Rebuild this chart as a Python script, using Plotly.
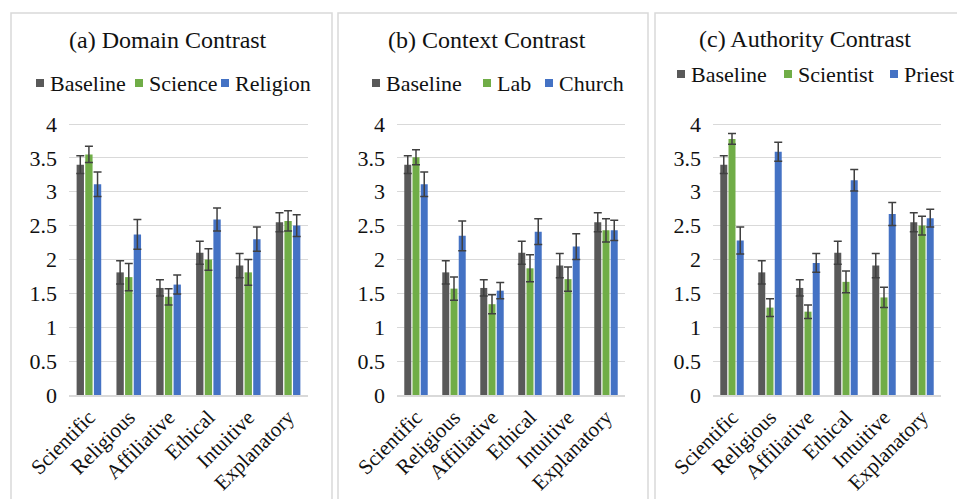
import plotly.graph_objects as go

W, H = 957, 499

categories = ["Scientific", "Religious", "Affiliative", "Ethical", "Intuitive", "Explanatory"]

titles = ["(a) Domain Contrast", "(b) Context Contrast", "(c) Authority Contrast"]
series_names = [
    ["Baseline", "Science", "Religion"],
    ["Baseline", "Lab", "Church"],
    ["Baseline", "Scientist", "Priest"],
]

baseline = [3.40, 1.81, 1.58, 2.10, 1.91, 2.55]
baseline_err = [0.13, 0.17, 0.12, 0.17, 0.18, 0.14]

science = [3.55, 1.74, 1.45, 2.00, 1.81, 2.57]
science_err = [0.12, 0.20, 0.12, 0.16, 0.19, 0.15]
religion = [3.11, 2.37, 1.63, 2.59, 2.30, 2.50]
religion_err = [0.18, 0.22, 0.14, 0.17, 0.18, 0.16]

lab = [3.51, 1.57, 1.34, 1.87, 1.71, 2.43]
lab_err = [0.11, 0.17, 0.14, 0.20, 0.18, 0.17]
church = [3.11, 2.35, 1.54, 2.41, 2.19, 2.43]
church_err = [0.18, 0.22, 0.12, 0.19, 0.19, 0.15]

scientist = [3.78, 1.29, 1.23, 1.67, 1.44, 2.50]
scientist_err = [0.08, 0.13, 0.10, 0.16, 0.15, 0.14]
priest = [2.28, 3.59, 1.95, 3.17, 2.67, 2.61]
priest_err = [0.20, 0.14, 0.14, 0.16, 0.17, 0.13]

panels_values = [
    [(baseline, baseline_err), (science, science_err), (religion, religion_err)],
    [(baseline, baseline_err), (lab, lab_err), (church, church_err)],
    [(baseline, baseline_err), (scientist, scientist_err), (priest, priest_err)],
]

ytick_vals = [0, 0.5, 1, 1.5, 2, 2.5, 3, 3.5, 4]
ytick_text = ["0", "0.5", "1", "1.5", "2", "2.5", "3", "3.5", "4"]

colors = ["#595959", "#70AD47", "#4472C4"]
err_color = "#404040"
grid_color = "#d9d9d9"
font_family = "'Liberation Serif'"
text_color = "#111111"


def px_x(p):
    return p / W


def px_y(p):
    return 1 - p / H


plot_x = [(69, 308), (397, 625), (713, 941)]
y_zero_px, y_four_px = 395, 124
ymax = 4.05
unit = (y_zero_px - y_four_px) / 4.0
y_top_px = y_four_px - (ymax - 4) * unit
panel_boxes = [(11, 332), (338, 648), (655, 975)]
title_pos = [(168, 40), (487, 40), (805, 39)]
legend_text_x = [(48, 147, 233), (384, 495, 557), (689, 796, 902)]
legend_y = [83, 83, 74]

fig = go.Figure()

for i in range(3):
    ax = "" if i == 0 else str(i + 1)
    for j in range(3):
        vals, errs = panels_values[i][j]
        fig.add_trace(go.Bar(
            x=categories, y=vals, name=series_names[i][j],
            marker=dict(color=colors[j], line=dict(width=0)),
            error_y=dict(type="data", array=errs, visible=True,
                         color=err_color, thickness=1.5, width=4),
            xaxis="x" + ax, yaxis="y" + ax, showlegend=False,
        ))
    x0, x1 = plot_x[i]
    fig.layout["xaxis" + ax] = dict(
        domain=[px_x(x0), px_x(x1)], anchor="y" + ax,
        showline=True, linecolor=grid_color, linewidth=1.5,
        tickangle=-45, ticks="", ticklabelstandoff=0, automargin=False,
        tickfont=dict(family=font_family, size=21, color=text_color),
        showgrid=False, zeroline=False, fixedrange=True,
    )
    fig.layout["yaxis" + ax] = dict(
        domain=[px_y(y_zero_px), px_y(y_top_px)], anchor="x" + ax,
        range=[0, ymax], tickvals=ytick_vals, ticktext=ytick_text,
        showgrid=True, gridcolor=grid_color, gridwidth=1, automargin=False,
        zeroline=False, showline=False, ticks="", ticklabelstandoff=11,
        tickfont=dict(family=font_family, size=22, color=text_color),
        fixedrange=True,
    )
    bx0, bx1 = panel_boxes[i]
    fig.add_shape(type="rect", xref="paper", yref="paper",
                  x0=px_x(bx0), x1=px_x(bx1), y0=px_y(520), y1=px_y(13),
                  line=dict(color="#d9d9d9", width=1.5), layer="below")
    tx, ty = title_pos[i]
    fig.add_annotation(x=px_x(tx), y=px_y(ty), xref="paper", yref="paper",
                       text=titles[i], showarrow=False, xanchor="center",
                       yanchor="middle",
                       font=dict(family=font_family, size=24, color=text_color))
    ly = legend_y[i]
    for j in range(3):
        lx = legend_text_x[i][j]
        fig.add_shape(type="rect", xref="paper", yref="paper",
                      x0=px_x(lx - 12), x1=px_x(lx - 4),
                      y0=px_y(ly + 4), y1=px_y(ly - 4),
                      fillcolor=colors[j], line=dict(width=0))
        fig.add_annotation(x=px_x(lx), y=px_y(ly), xref="paper", yref="paper",
                           text=series_names[i][j], showarrow=False,
                           xanchor="left", yanchor="middle",
                           font=dict(family=font_family, size=22, color=text_color))

fig.update_layout(
    width=W, height=H, barmode="group", bargap=0.35, bargroupgap=0.15,
    margin=dict(l=0, r=0, t=0, b=0),
    paper_bgcolor="white", plot_bgcolor="white",
    font=dict(family=font_family, color=text_color),
)

fig.write_html("out.html", config={"displayModeBar": False},
               post_script="document.body.style.margin='0';document.body.style.overflow='hidden';")
